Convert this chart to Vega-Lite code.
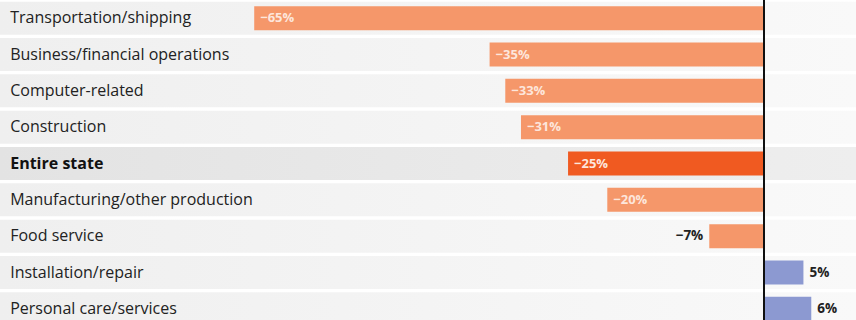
{
  "$schema": "https://vega.github.io/schema/vega-lite/v6.json",
  "width": 856,
  "height": 320,
  "autosize": "none",
  "padding": 0,
  "background": "white",
  "config": {"view": {"stroke": null}, "text": {"font": "Open Sans"}},
  "data": {"values": [
    {"category": "Transportation/shipping", "value": -65, "label": "−65%"},
    {"category": "Business/financial operations", "value": -35, "label": "−35%"},
    {"category": "Computer-related", "value": -33, "label": "−33%"},
    {"category": "Construction", "value": -31, "label": "−31%"},
    {"category": "Entire state", "value": -25, "label": "−25%"},
    {"category": "Manufacturing/other production", "value": -20, "label": "−20%"},
    {"category": "Food service", "value": -7, "label": "−7%"},
    {"category": "Installation/repair", "value": 5, "label": "5%"},
    {"category": "Personal care/services", "value": 6, "label": "6%"}
  ]},
  "encoding": {
    "y": {
      "field": "category",
      "type": "nominal",
      "axis": null,
      "scale": {
        "domain": ["Transportation/shipping", "Business/financial operations", "Computer-related", "Construction", "Entire state", "Manufacturing/other production", "Food service", "Installation/repair", "Personal care/services"],
        "range": [0, 327],
        "paddingInner": 0,
        "paddingOuter": 0
      }
    }
  },
  "layer": [
    {
      "transform": [{"filter": "datum.category !== 'Entire state'"}],
      "mark": {"type": "bar", "size": 33, "clip": true,
        "color": {"gradient": "linear", "x1": 0, "x2": 1, "y1": 0, "y2": 0, "stops": [{"offset": 0, "color": "#efefef"}, {"offset": 1, "color": "#f9f9f9"}]}},
      "encoding": {
        "x": {"datum": -97.4, "type": "quantitative", "scale": {"domain": [-97.4, 11.7], "nice": false, "zero": false}, "axis": null},
        "x2": {"datum": 11.7}
      }
    },
    {
      "transform": [{"filter": "datum.category === 'Entire state'"}],
      "mark": {"type": "bar", "size": 33, "clip": true,
        "color": {"gradient": "linear", "x1": 0, "x2": 1, "y1": 0, "y2": 0, "stops": [{"offset": 0, "color": "#e3e3e3"}, {"offset": 1, "color": "#eeeeee"}]}},
      "encoding": {
        "x": {"datum": -97.4, "type": "quantitative"},
        "x2": {"datum": 11.7}
      }
    },
    {
      "mark": {"type": "bar", "size": 24, "clip": true},
      "encoding": {
        "x": {"field": "value", "type": "quantitative"},
        "x2": {"datum": 0},
        "color": {
          "condition": [
            {"test": "datum.category === 'Entire state'", "value": "#f05a21"},
            {"test": "datum.value > 0", "value": "#8c99d1"}
          ],
          "value": "#f5976a"
        }
      }
    },
    {
      "mark": {"type": "rule", "color": "#111111", "strokeWidth": 1.5, "clip": true},
      "encoding": {"x": {"datum": 0, "type": "quantitative"}, "y": {"value": 0}, "y2": {"value": 320}}
    },
    {
      "transform": [{"filter": "datum.category !== 'Entire state'"}],
      "mark": {"type": "text", "align": "left", "baseline": "middle", "fontSize": 16, "color": "#222222", "clip": true},
      "encoding": {"x": {"datum": -96.1, "type": "quantitative"}, "text": {"field": "category"}}
    },
    {
      "transform": [{"filter": "datum.category === 'Entire state'"}],
      "mark": {"type": "text", "align": "left", "baseline": "middle", "fontSize": 16, "fontWeight": "bold", "color": "#111111", "clip": true},
      "encoding": {"x": {"datum": -96.1, "type": "quantitative"}, "text": {"field": "category"}}
    },
    {
      "transform": [{"filter": "datum.value <= -10"}],
      "mark": {"type": "text", "align": "left", "baseline": "middle", "dx": 6, "fontSize": 13, "fontWeight": "bold", "color": "#fde6dc", "clip": true},
      "encoding": {"x": {"field": "value", "type": "quantitative"}, "text": {"field": "label"}}
    },
    {
      "transform": [{"filter": "datum.value < 0 && datum.value > -10"}],
      "mark": {"type": "text", "align": "right", "baseline": "middle", "dx": -6, "fontSize": 13.5, "fontWeight": "bold", "color": "#222222", "clip": true},
      "encoding": {"x": {"field": "value", "type": "quantitative"}, "text": {"field": "label"}}
    },
    {
      "transform": [{"filter": "datum.value > 0"}],
      "mark": {"type": "text", "align": "left", "baseline": "middle", "dx": 6, "fontSize": 13.5, "fontWeight": "bold", "color": "#222222", "clip": true},
      "encoding": {"x": {"field": "value", "type": "quantitative"}, "text": {"field": "label"}}
    }
  ]
}
